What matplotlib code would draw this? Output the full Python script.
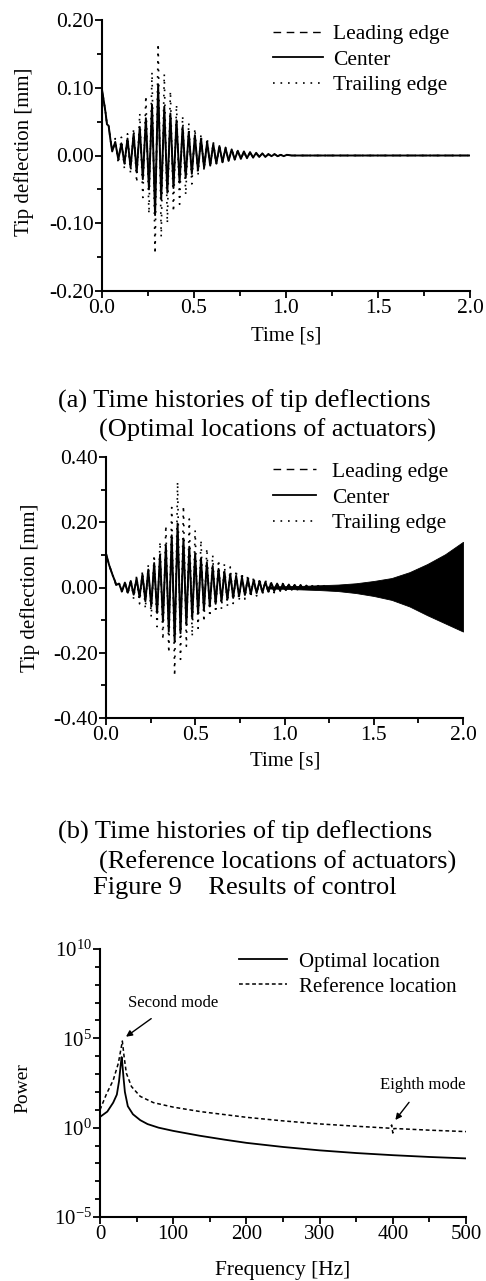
import numpy as np
import matplotlib
matplotlib.use("Agg")
import matplotlib.pyplot as plt
from matplotlib.ticker import MultipleLocator, FuncFormatter, FixedLocator, NullFormatter
from matplotlib.lines import Line2D

plt.rcParams['font.family'] = ['Liberation Serif', 'DejaVu Serif']
plt.rcParams['mathtext.fontset'] = 'custom'
plt.rcParams['mathtext.rm'] = 'Liberation Serif'
plt.rcParams['mathtext.it'] = 'Liberation Serif:italic'
plt.rcParams['axes.unicode_minus'] = False

# ---------------- Panel (a): optimal locations ----------------
# initial decay (s, mm)
a_init_t = [0.0, 0.010, 0.020, 0.027, 0.036, 0.045]
a_init_center = [0.097, 0.080, 0.062, 0.046, 0.044, 0.025]
a_init_lead = [0.097, 0.080, 0.062, 0.046, 0.044, 0.025]
a_init_trail = [0.097, 0.080, 0.062, 0.046, 0.044, 0.025]
a_first_peak = 0.072      # time of first oscillation peak [s]
a_period = 0.0333         # oscillation period [s]
# oscillation extremes read per cycle: trough (before peak) and peak
a_center_lo = [0.006, -0.006, -0.012, -0.018, -0.025, -0.035, -0.050, -0.088, -0.065, -0.055,
               -0.048, -0.040, -0.033, -0.027, -0.022, -0.018, -0.015, -0.012, -0.010, -0.008,
               -0.006, -0.005, -0.004, -0.003, -0.002, -0.002, -0.001, -0.001, -0.001]
a_center_hi = [0.020, 0.018, 0.025, 0.032, 0.042, 0.055, 0.075, 0.105, 0.072, 0.062,
               0.052, 0.042, 0.035, 0.030, 0.025, 0.020, 0.017, 0.014, 0.011, 0.009,
               0.007, 0.006, 0.005, 0.004, 0.003, 0.002, 0.002, 0.001, 0.001]
a_lead_lo = [0.006, -0.005, -0.010, -0.016, -0.022, -0.031, -0.044, -0.078, -0.058, -0.049,
             -0.042, -0.035, -0.029, -0.024, -0.019, -0.016, -0.013, -0.011, -0.009, -0.007,
             -0.005, -0.004, -0.003, -0.003, -0.002, -0.002, -0.001, -0.001, -0.001]
a_lead_hi = [0.019, 0.017, 0.022, 0.028, 0.037, 0.048, 0.066, 0.092, 0.064, 0.055,
             0.046, 0.037, 0.031, 0.026, 0.022, 0.018, 0.015, 0.012, 0.010, 0.008,
             0.006, 0.005, 0.004, 0.003, 0.003, 0.002, 0.002, 0.001, 0.001]
a_trail_lo = [0.006, -0.012, -0.020, -0.027, -0.040, -0.062, -0.086, -0.145, -0.120, -0.100,
              -0.083, -0.072, -0.058, -0.042, -0.030, -0.022, -0.017, -0.013, -0.010, -0.008,
              -0.006, -0.005, -0.004, -0.003, -0.002, -0.002, -0.001, -0.001, -0.001]
a_trail_hi = [0.025, 0.027, 0.032, 0.040, 0.062, 0.088, 0.123, 0.165, 0.120, 0.095,
              0.075, 0.058, 0.048, 0.040, 0.032, 0.026, 0.020, 0.016, 0.012, 0.010,
              0.008, 0.005, 0.004, 0.003, 0.003, 0.002, 0.002, 0.001, 0.001]
a_tail_t = [1.03, 2.0]
a_tail_v = [0.0, 0.0]

# ---------------- Panel (b): reference locations ----------------
b_init_t = [0.0, 0.018, 0.037, 0.050]
b_init_center = [0.104, 0.068, 0.038, 0.020]
b_init_lead = [0.104, 0.068, 0.038, 0.020]
b_init_trail = [0.104, 0.068, 0.038, 0.020]
b_first_peak = 0.073
b_period = 0.0328
b_center_lo = [0.008, -0.012, -0.016, -0.022, -0.030, -0.042, -0.058, -0.078, -0.105, -0.135,
               -0.167, -0.140, -0.115, -0.095, -0.080, -0.068, -0.058, -0.050, -0.043, -0.037,
               -0.032, -0.027, -0.023, -0.020, -0.017, -0.015, -0.013, -0.011, -0.009, -0.008,
               -0.007, -0.006, -0.005, -0.004, -0.004, -0.003]
b_center_hi = [0.012, 0.015, 0.020, 0.028, 0.040, 0.055, 0.075, 0.100, 0.130, 0.160,
               0.196, 0.150, 0.125, 0.105, 0.090, 0.077, 0.066, 0.057, 0.049, 0.042,
               0.036, 0.031, 0.027, 0.023, 0.020, 0.017, 0.014, 0.012, 0.011, 0.009,
               0.008, 0.007, 0.006, 0.005, 0.005, 0.004]
b_lead_lo = [0.008, -0.011, -0.014, -0.020, -0.027, -0.038, -0.052, -0.070, -0.094, -0.120,
             -0.150, -0.126, -0.103, -0.085, -0.072, -0.061, -0.052, -0.045, -0.039, -0.033,
             -0.029, -0.024, -0.021, -0.018, -0.015, -0.013, -0.012, -0.010, -0.008, -0.007,
             -0.006, -0.005, -0.005, -0.004, -0.003, -0.003]
b_lead_hi = [0.011, 0.014, 0.018, 0.025, 0.036, 0.050, 0.068, 0.090, 0.117, 0.144,
             0.176, 0.135, 0.112, 0.094, 0.081, 0.069, 0.059, 0.051, 0.044, 0.038,
             0.032, 0.028, 0.024, 0.021, 0.018, 0.015, 0.013, 0.011, 0.010, 0.008,
             0.007, 0.006, 0.005, 0.005, 0.004, 0.004]
b_trail_lo = [0.008, -0.015, -0.022, -0.035, -0.050, -0.065, -0.090, -0.120, -0.160, -0.200,
              -0.271, -0.220, -0.180, -0.150, -0.125, -0.105, -0.090, -0.077, -0.066, -0.057,
              -0.049, -0.042, -0.036, -0.031, -0.026, -0.022, -0.019, -0.016, -0.013, -0.011,
              -0.009, -0.008, -0.006, -0.005, -0.004, -0.003]
b_trail_hi = [0.015, 0.018, 0.025, 0.035, 0.050, 0.070, 0.100, 0.140, 0.190, 0.245,
              0.324, 0.250, 0.210, 0.175, 0.145, 0.120, 0.100, 0.085, 0.073, 0.063,
              0.054, 0.046, 0.040, 0.034, 0.029, 0.024, 0.020, 0.017, 0.014, 0.012,
              0.010, 0.008, 0.007, 0.006, 0.005, 0.004]
# growing high-frequency oscillation (envelope of the dense band)
b_band_t = [0.90, 1.00, 1.10, 1.20, 1.30, 1.40, 1.50, 1.60, 1.70, 1.80, 1.90, 2.00]
b_band_hi = [0.003, 0.004, 0.005, 0.007, 0.009, 0.013, 0.020, 0.029, 0.047, 0.072, 0.102, 0.140]
b_band_lo = [-0.003, -0.004, -0.006, -0.008, -0.011, -0.017, -0.026, -0.038, -0.058, -0.085, -0.110, -0.135]

# ---------------- Panel (c): power spectrum ----------------
opt_freq = [0, 10, 18, 23, 26, 28, 29.5, 30.5, 32, 34, 38, 45, 55, 65, 80, 100, 136, 170,
            200, 250, 300, 350, 400, 450, 500]
opt_log_power = [0.6, 0.9, 1.4, 1.85, 2.6, 3.4, 3.95, 3.6, 2.85, 2.0, 1.2, 0.75, 0.42, 0.2,
                 0.0, -0.18, -0.45, -0.67, -0.85, -1.08, -1.27, -1.42, -1.54, -1.64, -1.72]
ref_freq = [0, 9, 18, 25, 29.5, 30.5, 33, 36, 43, 55, 73, 100, 137, 200, 250, 300, 350,
            396, 398.5, 400, 401.5, 404, 450, 500]
ref_log_power = [1.0, 1.9, 2.65, 3.6, 4.6, 4.85, 3.95, 3.05, 2.3, 1.75, 1.4, 1.15, 0.9, 0.58,
                 0.38, 0.21, 0.08, -0.03, 0.15, -0.3, -0.05, -0.05, -0.14, -0.22]

legend_a = ["Leading edge", "Center", "Trailing edge"]
legend_c = ["Optimal location", "Reference location"]


def zigzag(t_init, v_init, first_peak, period, lo, hi):
    k = np.arange(len(hi))
    t_pk = first_peak + k * period
    t_lo = t_pk - period / 2.0
    t = np.empty(2 * len(hi))
    v = np.empty(2 * len(hi))
    t[0::2], t[1::2] = t_lo, t_pk
    v[0::2], v[1::2] = lo, hi
    return np.concatenate([t_init, t]), np.concatenate([v_init, v])


W, H = 486, 1281
fig = plt.figure(figsize=(W / 100, H / 100), dpi=100)


def ax_rect(l, r, top, bot):
    return [l / W, 1 - bot / H, (r - l) / W, (bot - top) / H]


LS_DASH = (0, (5.5, 4.0))
LS_DOT = (0, (1.0, 3.5))
TICK_FS = 15.5


def style_axes(ax):
    for s in ['top', 'right']:
        ax.spines[s].set_visible(False)
    for s in ['left', 'bottom']:
        ax.spines[s].set_linewidth(1.5)
    ax.tick_params(which='major', direction='out', length=5, width=1.3,
                   labelsize=TICK_FS, pad=1)
    ax.tick_params(which='minor', direction='out', length=3.5, width=1.3)


def time_panel(rect, ylim, ymaj, data, band=None, legend_pos=(0.465, 0.985), hl=2.3, htp=0.5):
    ax = fig.add_axes(rect)
    style_axes(ax)
    (tl, vl), (tc, vc), (tt, vt) = data
    ax.plot(tl, vl, color='black', lw=1.0, ls=LS_DASH)
    ax.plot(tc, vc, color='black', lw=1.4, ls='-')
    ax.plot(tt, vt, color='black', lw=1.2, ls=LS_DOT)
    if band is not None:
        bt, bl, bh = band
        ax.fill_between(bt, bl, bh, color='black', lw=0.6)
    ax.set_xlim(0, 2.0)
    ax.set_ylim(*ylim)
    ax.xaxis.set_major_locator(MultipleLocator(0.5))
    ax.xaxis.set_minor_locator(MultipleLocator(0.25))
    ax.yaxis.set_major_locator(MultipleLocator(ymaj))
    ax.yaxis.set_minor_locator(MultipleLocator(ymaj / 2))
    ax.xaxis.set_major_formatter(FuncFormatter(lambda v, p: f"{v:.1f}"))
    ax.yaxis.set_major_formatter(FuncFormatter(lambda v, p: f"{v:.2f}" if abs(v) > 1e-9 else "0.00"))
    handles = [Line2D([], [], color='black', lw=1.0, ls=LS_DASH),
               Line2D([], [], color='black', lw=1.3, ls='-'),
               Line2D([], [], color='black', lw=1.2, ls=LS_DOT)]
    ax.legend(handles, legend_a, frameon=False, loc='upper left', bbox_to_anchor=legend_pos,
              fontsize=15.5, handlelength=hl, handletextpad=htp, labelspacing=0.26,
              borderpad=0, borderaxespad=0)
    return ax


# Panel (a)
ta_l = zigzag(a_init_t, a_init_lead, a_first_peak, a_period, a_lead_lo, a_lead_hi)
ta_c = zigzag(a_init_t, a_init_center, a_first_peak, a_period, a_center_lo, a_center_hi)
ta_t = zigzag(a_init_t, a_init_trail, a_first_peak, a_period, a_trail_lo, a_trail_hi)
ext = lambda tv: (np.concatenate([tv[0], a_tail_t]), np.concatenate([tv[1], a_tail_v]))
axa = time_panel(ax_rect(102, 470, 20, 291), (-0.2, 0.2), 0.1,
                 [ext(ta_l), ext(ta_c), ext(ta_t)], legend_pos=(0.465, 0.985), hl=2.3, htp=0.5)

# Panel (b)
tb_l = zigzag(b_init_t, b_init_lead, b_first_peak, b_period, b_lead_lo, b_lead_hi)
tb_c = zigzag(b_init_t, b_init_center, b_first_peak, b_period, b_center_lo, b_center_hi)
tb_t = zigzag(b_init_t, b_init_trail, b_first_peak, b_period, b_trail_lo, b_trail_hi)
axb = time_panel(ax_rect(106, 463, 457, 718), (-0.4, 0.4), 0.2,
                 [tb_l, tb_c, tb_t], band=(b_band_t, b_band_lo, b_band_hi),
                 legend_pos=(0.468, 0.981), hl=2.0, htp=0.75)

# Panel (c)
axc = fig.add_axes(ax_rect(100, 466, 949, 1217))
style_axes(axc)
axc.plot(opt_freq, 10.0 ** np.array(opt_log_power), color='black', lw=1.3, ls='-')
axc.plot(ref_freq, 10.0 ** np.array(ref_log_power), color='black', lw=1.1, ls=(0, (2.5, 1.8)))
axc.set_yscale('log')
axc.set_xlim(0, 500)
axc.set_ylim(1e-5, 1e10)
axc.xaxis.set_major_locator(MultipleLocator(100))
axc.xaxis.set_minor_locator(MultipleLocator(50))
axc.yaxis.set_major_locator(FixedLocator([1e-5, 1e0, 1e5, 1e10]))
axc.yaxis.set_minor_locator(FixedLocator([10.0 ** e for e in range(-5, 11) if e % 5 != 0]))
axc.yaxis.set_minor_formatter(NullFormatter())
axc.yaxis.set_major_formatter(FuncFormatter(lambda v, p: r"$\mathrm{10^{%d}}$" % int(round(np.log10(v)))))
axc.xaxis.set_major_formatter(FuncFormatter(lambda v, p: f"{int(v)}"))
axc.tick_params(axis='x', labelsize=15)
axc.tick_params(axis='y', labelsize=15)
hc = [Line2D([], [], color='black', lw=1.3, ls='-'),
      Line2D([], [], color='black', lw=1.1, ls=(0, (2.5, 1.8)))]
axc.legend(hc, legend_c, frameon=False, loc='upper left', bbox_to_anchor=(0.38, 0.989),
           fontsize=15, handlelength=2.3, handletextpad=0.57, labelspacing=0.26,
           borderpad=0, borderaxespad=0)
axc.annotate("Second mode", xy=(35.5, 10 ** 5.09), xytext=(99.7, 10 ** 6.98),
             ha='center', va='center', fontsize=12,
             arrowprops=dict(arrowstyle='-|>', color='black', lw=1.0, shrinkA=6, shrinkB=0,
                             mutation_scale=9))
axc.annotate("Eighth mode", xy=(403.5, 10 ** 0.43), xytext=(440.6, 10 ** 2.39),
             ha='center', va='center', fontsize=12,
             arrowprops=dict(arrowstyle='-|>', color='black', lw=1.0, shrinkA=6, shrinkB=0,
                             mutation_scale=9))


def ftext(x, y, s, **kw):
    fig.text(x / W, 1 - y / H, s, **kw)


# axis labels
ftext(24, 152, "Tip deflection [mm]", rotation=90, ha='center', va='center', fontsize=15)
ftext(286, 336, "Time [s]", ha='center', va='center', fontsize=15)
ftext(30, 588, "Tip deflection [mm]", rotation=90, ha='center', va='center', fontsize=15)
ftext(285, 761, "Time [s]", ha='center', va='center', fontsize=15)
ftext(23, 1088, "Power", rotation=90, ha='center', va='center', fontsize=14)
ftext(283, 1270, "Frequency [Hz]", ha='center', va='center', fontsize=15.5)

# captions
ftext(58, 401, "(a) Time histories of tip deflections", ha='left', va='center', fontsize=19)
ftext(99, 430, "(Optimal locations of actuators)", ha='left', va='center', fontsize=19)
ftext(58, 832, "(b) Time histories of tip deflections", ha='left', va='center', fontsize=19)
ftext(99, 862, "(Reference locations of actuators)", ha='left', va='center', fontsize=19)
ftext(93, 888, "Figure 9    Results of control", ha='left', va='center', fontsize=19)

fig.savefig("out.png", dpi=100)
